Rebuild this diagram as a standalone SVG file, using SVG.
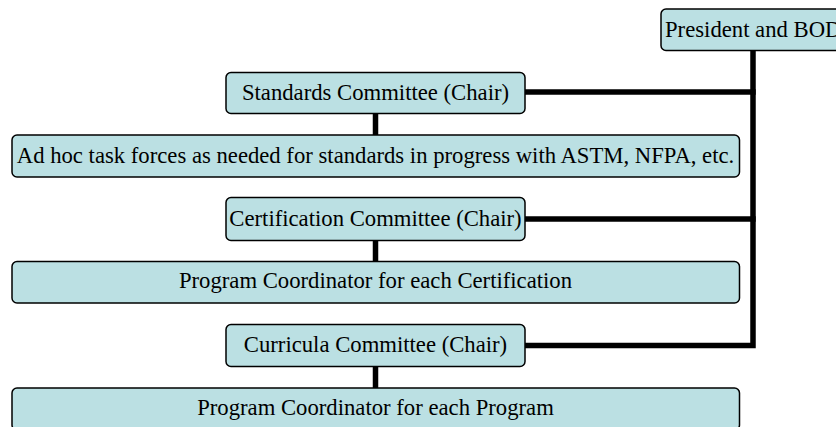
<svg xmlns="http://www.w3.org/2000/svg" width="836" height="427" viewBox="0 0 836 427">
  <style>
    .box { fill: #BBE0E3; stroke: #000; stroke-width: 1.5; }
    .lbl { font-family: "Liberation Serif", "Times New Roman", serif; font-size: 22.7px; fill: #000; text-anchor: middle; dominant-baseline: central; }
    .wire { fill: none; stroke: #000; stroke-width: 5.5; stroke-linecap: butt; stroke-linejoin: miter; }
  </style>
  <rect width="836" height="427" fill="#fff"/>

  <!-- reporting lines -->
  <g id="connectors">
    <polyline class="wire" points="753,51 753,345.5 525,345.5"/>
    <line class="wire" x1="525" y1="92" x2="755.7" y2="92"/>
    <line class="wire" x1="525" y1="219" x2="755.7" y2="219"/>
    <line class="wire" x1="375.5" y1="113" x2="375.5" y2="135"/>
    <line class="wire" x1="375.5" y1="240.5" x2="375.5" y2="261.5"/>
    <line class="wire" x1="375.5" y1="366.5" x2="375.5" y2="388"/>
  </g>

  <g id="president">
    <rect class="box" x="661" y="9" width="200" height="41.5" rx="5"/>
    <text class="lbl" x="665" y="29.5" style="text-anchor:start">President and BOD</text>
  </g>

  <g id="standards">
    <rect class="box" x="226" y="72.5" width="299" height="41" rx="5"/>
    <text class="lbl" x="375.5" y="92.5">Standards Committee (Chair)</text>
  </g>

  <g id="taskforces">
    <rect class="box" x="12" y="135" width="727.5" height="42" rx="5"/>
    <text class="lbl" x="375.5" y="155.5">Ad hoc task forces as needed for standards in progress with ASTM, NFPA, etc.</text>
  </g>

  <g id="certification">
    <rect class="box" x="226" y="197.5" width="299" height="43" rx="5"/>
    <text class="lbl" x="375.5" y="218.5">Certification Committee (Chair)</text>
  </g>

  <g id="cert-coordinator">
    <rect class="box" x="12" y="261.5" width="727.5" height="41.5" rx="5"/>
    <text class="lbl" x="375.5" y="280">Program Coordinator for each Certification</text>
  </g>

  <g id="curricula">
    <rect class="box" x="226" y="324.5" width="299" height="42" rx="5"/>
    <text class="lbl" x="375.5" y="344.5">Curricula Committee (Chair)</text>
  </g>

  <g id="program-coordinator">
    <rect class="box" x="12" y="388" width="727.5" height="42" rx="5"/>
    <text class="lbl" x="375.5" y="407.5">Program Coordinator for each Program</text>
  </g>
</svg>
